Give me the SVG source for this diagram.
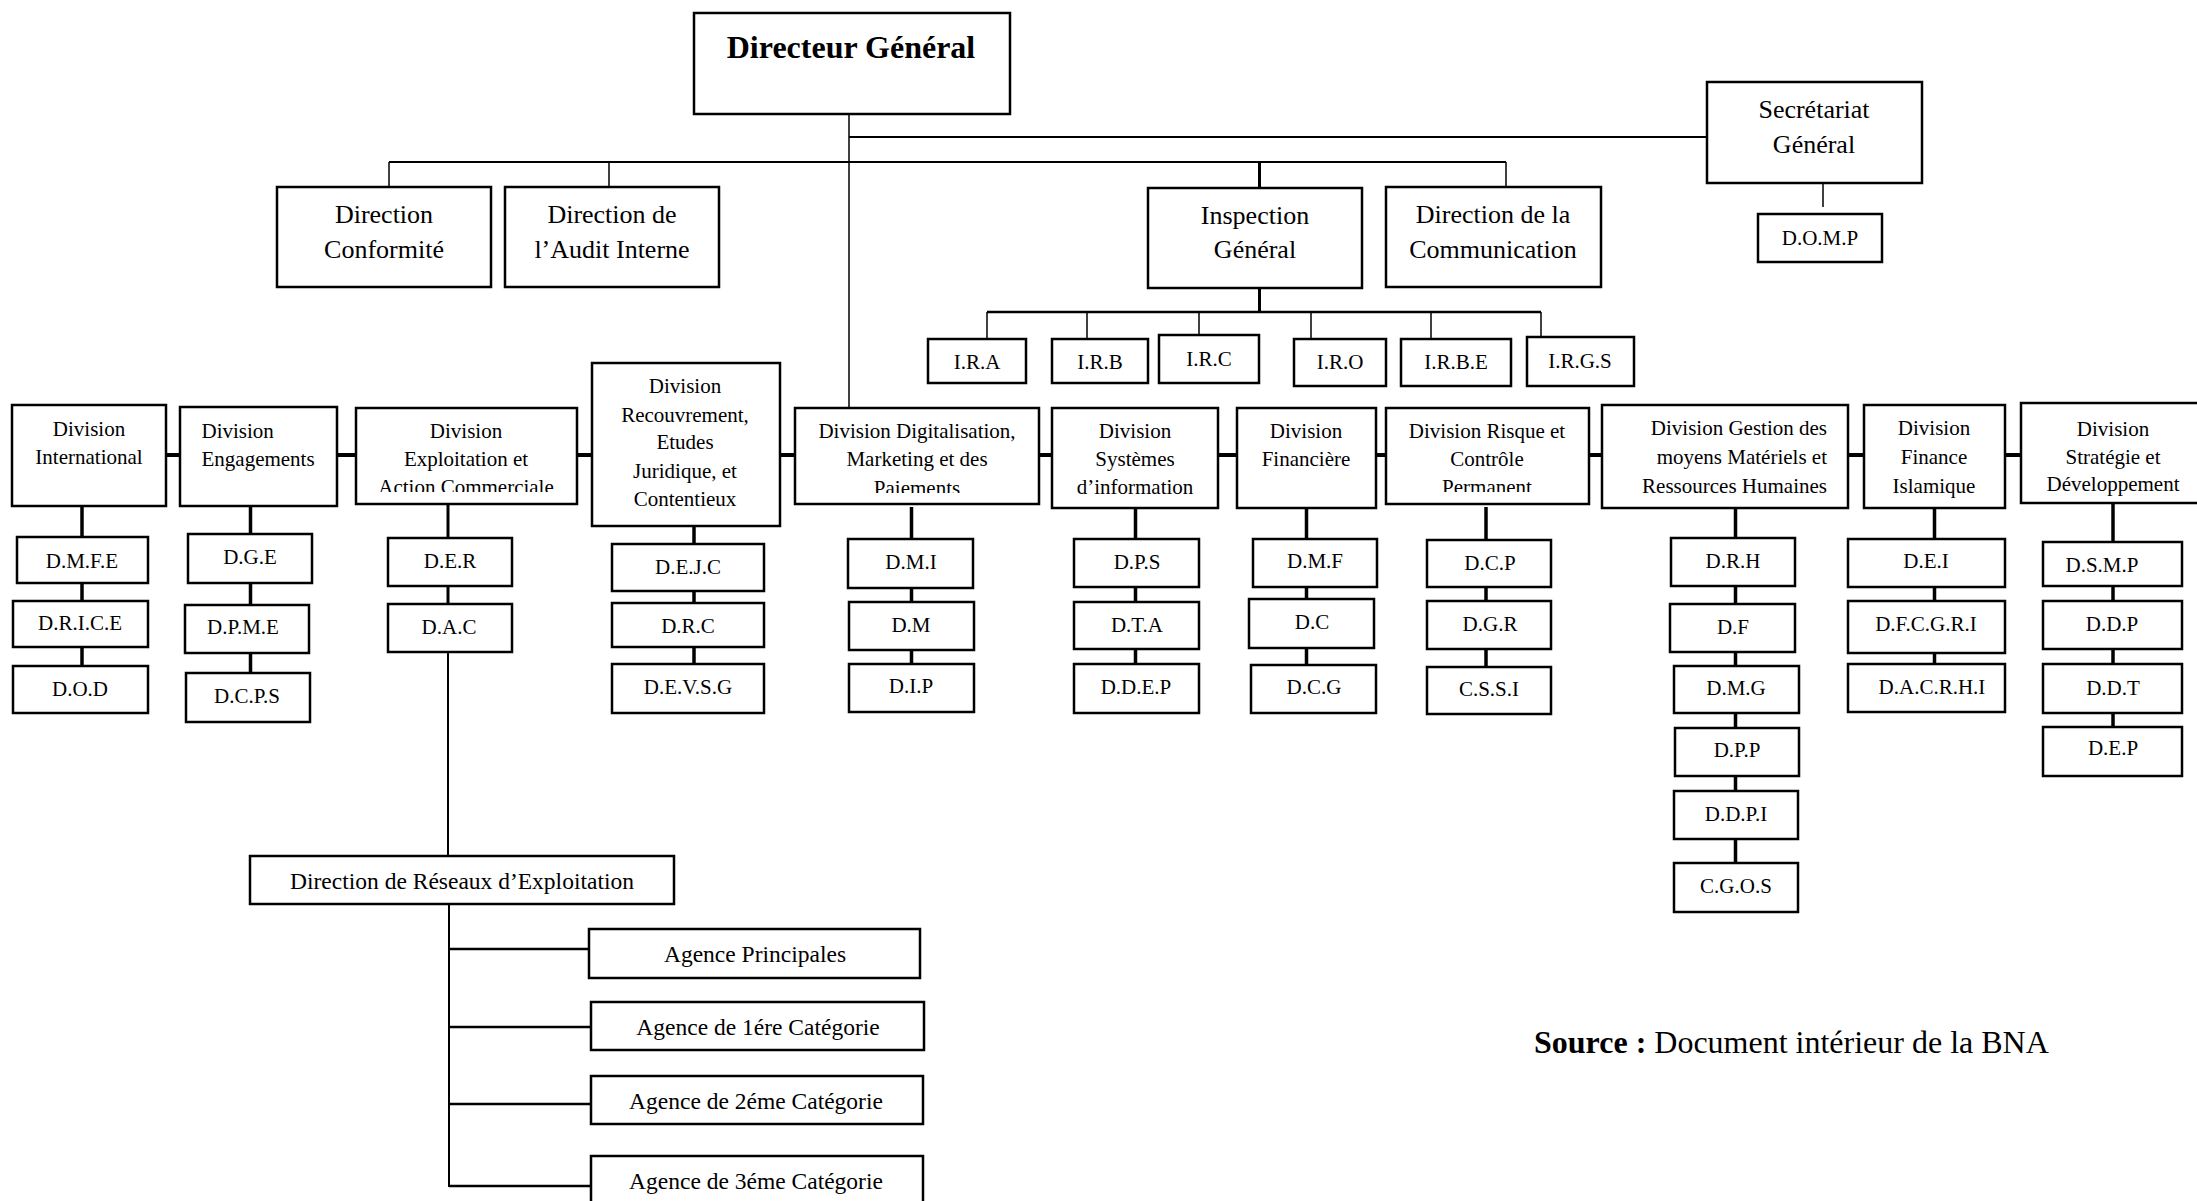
<svg xmlns="http://www.w3.org/2000/svg" width="2197" height="1201" viewBox="0 0 2197 1201">
<style>
.b{fill:#fff;stroke:#000;stroke-width:2.5}
.t{font-family:"Liberation Serif","Times New Roman",serif;fill:#000;text-anchor:middle}
.s{text-anchor:start}
.e{text-anchor:end}
.f32{font-size:32px;font-weight:bold}
.f26{font-size:26px}
.f24{font-size:23.5px}
.f21{font-size:21px}
.c{stroke:#000;fill:none}
.w1{stroke-width:1.5}
.w2{stroke-width:2}
.w25{stroke-width:2.5}
.w3{stroke-width:3}
.w35{stroke-width:3.5}
.w4{stroke-width:4}
</style>
<defs>
<clipPath id="clipExp"><rect x="356" y="408" width="221" height="84"/></clipPath>
<clipPath id="clipDig"><rect x="795" y="408" width="244" height="85"/></clipPath>
<clipPath id="clipRsq"><rect x="1386" y="408" width="203" height="84"/></clipPath>
</defs>
<rect x="0" y="0" width="2197" height="1201" fill="#fff"/>
<g id="connectors">
<line class="c w1" x1="849" y1="114" x2="849" y2="408"/>
<line class="c w2" x1="849" y1="137" x2="1707" y2="137"/>
<line class="c w2" x1="389" y1="162" x2="1506" y2="162"/>
<line class="c w1" x1="389" y1="162" x2="389" y2="187"/>
<line class="c w1" x1="609" y1="162" x2="609" y2="187"/>
<line class="c w3" x1="1259.5" y1="162" x2="1259.5" y2="188"/>
<line class="c w1" x1="1506" y1="162" x2="1506" y2="187"/>
<line class="c w1" x1="1823" y1="183" x2="1823" y2="207"/>
<line class="c w3" x1="1259.5" y1="288" x2="1259.5" y2="312"/>
<line class="c w25" x1="987" y1="312" x2="1541" y2="312"/>
<line class="c w1" x1="987" y1="312" x2="987" y2="339"/>
<line class="c w1" x1="1087" y1="312" x2="1087" y2="339"/>
<line class="c w1" x1="1199" y1="312" x2="1199" y2="335"/>
<line class="c w1" x1="1311" y1="312" x2="1311" y2="339"/>
<line class="c w1" x1="1431" y1="312" x2="1431" y2="339"/>
<line class="c w1" x1="1541" y1="312" x2="1541" y2="337"/>
<line class="c w4" x1="166" y1="455" x2="2021" y2="455"/>
<line class="c w35" x1="82" y1="506" x2="82" y2="666"/>
<line class="c w35" x1="250.5" y1="506" x2="250.5" y2="673"/>
<line class="c w3" x1="448" y1="504" x2="448" y2="604"/>
<line class="c w2" x1="448" y1="652" x2="448" y2="856"/>
<line class="c w35" x1="694" y1="526" x2="694" y2="664"/>
<line class="c w35" x1="911.5" y1="507" x2="911.5" y2="664"/>
<line class="c w35" x1="1135.5" y1="508" x2="1135.5" y2="664"/>
<line class="c w35" x1="1306.5" y1="508" x2="1306.5" y2="665"/>
<line class="c w35" x1="1486" y1="507" x2="1486" y2="667"/>
<line class="c w35" x1="1735.5" y1="508" x2="1735.5" y2="863"/>
<line class="c w35" x1="1934.5" y1="508" x2="1934.5" y2="664"/>
<line class="c w35" x1="2113" y1="503" x2="2113" y2="727"/>
<line class="c w2" x1="449" y1="904" x2="449" y2="1187"/>
<line class="c w25" x1="449" y1="949" x2="589" y2="949"/>
<line class="c w25" x1="449" y1="1027" x2="591" y2="1027"/>
<line class="c w25" x1="449" y1="1104" x2="591" y2="1104"/>
<line class="c w25" x1="449" y1="1186" x2="591" y2="1186"/>
</g>
<g id="n-dg"><rect class="b" x="694" y="13" width="316" height="101"/><text class="t f32" x="851" y="58">Directeur Général</text></g>
<g id="n-sg"><rect class="b" x="1707" y="82" width="215" height="101"/><text class="t f26" x="1814" y="118">Secrétariat</text><text class="t f26" x="1814" y="153">Général</text></g>
<g id="n-domp"><rect class="b" x="1758" y="214" width="124" height="48"/><text class="t f21" x="1820" y="245">D.O.M.P</text></g>
<g id="n-conf"><rect class="b" x="277" y="187" width="214" height="100"/><text class="t f26" x="384" y="223">Direction</text><text class="t f26" x="384" y="258">Conformité</text></g>
<g id="n-audit"><rect class="b" x="505" y="187" width="214" height="100"/><text class="t f26" x="612" y="223">Direction de</text><text class="t f26" x="612" y="258">l’Audit Interne</text></g>
<g id="n-insp"><rect class="b" x="1148" y="188" width="214" height="100"/><text class="t f26" x="1255" y="224">Inspection</text><text class="t f26" x="1255" y="258">Général</text></g>
<g id="n-comm"><rect class="b" x="1386" y="187" width="215" height="100"/><text class="t f26" x="1493" y="223">Direction de la</text><text class="t f26" x="1493" y="258">Communication</text></g>
<g id="n-ira"><rect class="b" x="928" y="339" width="98" height="44"/><text class="t f21" x="977" y="369">I.R.A</text></g>
<g id="n-irb"><rect class="b" x="1052" y="339" width="96" height="44"/><text class="t f21" x="1100" y="369">I.R.B</text></g>
<g id="n-irc"><rect class="b" x="1159" y="335" width="100" height="48"/><text class="t f21" x="1209" y="366">I.R.C</text></g>
<g id="n-iro"><rect class="b" x="1294" y="339" width="92" height="47"/><text class="t f21" x="1340" y="369">I.R.O</text></g>
<g id="n-irbe"><rect class="b" x="1401" y="339" width="110" height="47"/><text class="t f21" x="1456" y="369">I.R.B.E</text></g>
<g id="n-irgs"><rect class="b" x="1527" y="337" width="107" height="49"/><text class="t f21" x="1580" y="368">I.R.G.S</text></g>
<g id="n-dint"><rect class="b" x="12" y="405" width="154" height="101"/><text class="t f21" x="89" y="436">Division</text><text class="t f21" x="89" y="464">International</text></g>
<g id="n-deng"><rect class="b" x="180" y="407" width="157" height="99"/><text class="t s f21" x="201.5" y="438">Division</text><text class="t s f21" x="201.5" y="466">Engagements</text></g>
<g id="n-dexp"><rect class="b" x="356" y="408" width="221" height="96"/><g clip-path="url(#clipExp)"><text class="t f21" x="466" y="438">Division</text><text class="t f21" x="466" y="466">Exploitation et</text><text class="t f21" x="466" y="494">Action Commerciale</text></g></g>
<g id="n-drec"><rect class="b" x="592" y="363" width="188" height="163"/><text class="t f21" x="685" y="393">Division</text><text class="t f21" x="685" y="422">Recouvrement,</text><text class="t f21" x="685" y="449">Etudes</text><text class="t f21" x="685" y="478">Juridique, et</text><text class="t f21" x="685" y="506">Contentieux</text></g>
<g id="n-ddig"><rect class="b" x="795" y="408" width="244" height="96"/><g clip-path="url(#clipDig)"><text class="t f21" x="917" y="438">Division Digitalisation,</text><text class="t f21" x="917" y="466">Marketing et des</text><text class="t f21" x="917" y="495">Paiements</text></g></g>
<g id="n-dsys"><rect class="b" x="1052" y="408" width="166" height="100"/><text class="t f21" x="1135" y="438">Division</text><text class="t f21" x="1135" y="466">Systèmes</text><text class="t f21" x="1135" y="494">d’information</text></g>
<g id="n-dfin"><rect class="b" x="1237" y="408" width="139" height="100"/><text class="t f21" x="1306" y="438">Division</text><text class="t f21" x="1306" y="466">Financière</text></g>
<g id="n-drsq"><rect class="b" x="1386" y="408" width="203" height="96"/><g clip-path="url(#clipRsq)"><text class="t f21" x="1487" y="438">Division Risque et</text><text class="t f21" x="1487" y="466">Contrôle</text><text class="t f21" x="1487" y="494">Permanent</text></g></g>
<g id="n-dges"><rect class="b" x="1602" y="405" width="246" height="103"/><text class="t e f21" x="1827" y="435">Division Gestion des</text><text class="t e f21" x="1827" y="464">moyens Matériels et</text><text class="t e f21" x="1827" y="493">Ressources Humaines</text></g>
<g id="n-dfi"><rect class="b" x="1864" y="405" width="141" height="103"/><text class="t f21" x="1934" y="435">Division</text><text class="t f21" x="1934" y="464">Finance</text><text class="t f21" x="1934" y="493">Islamique</text></g>
<g id="n-dstr"><rect class="b" x="2021" y="403" width="190" height="100"/><text class="t f21" x="2113" y="436">Division</text><text class="t f21" x="2113" y="464">Stratégie et</text><text class="t f21" x="2113" y="491">Développement</text></g>
<g id="n-dmfe"><rect class="b" x="17" y="537" width="131" height="46"/><text class="t f21" x="82" y="568">D.M.F.E</text></g>
<g id="n-drice"><rect class="b" x="13" y="601" width="135" height="46"/><text class="t f21" x="80" y="630">D.R.I.C.E</text></g>
<g id="n-dod"><rect class="b" x="13" y="666" width="135" height="47"/><text class="t f21" x="80" y="696">D.O.D</text></g>
<g id="n-dge"><rect class="b" x="188" y="534" width="124" height="49"/><text class="t f21" x="250" y="564">D.G.E</text></g>
<g id="n-dpme"><rect class="b" x="185" y="605" width="124" height="48"/><text class="t f21" x="243" y="634">D.P.M.E</text></g>
<g id="n-dcps"><rect class="b" x="186" y="673" width="124" height="49"/><text class="t f21" x="247" y="703">D.C.P.S</text></g>
<g id="n-der"><rect class="b" x="388" y="538" width="124" height="48"/><text class="t f21" x="450" y="568">D.E.R</text></g>
<g id="n-dac"><rect class="b" x="388" y="604" width="124" height="48"/><text class="t f21" x="449" y="634">D.A.C</text></g>
<g id="n-dejc"><rect class="b" x="612" y="544" width="152" height="47"/><text class="t f21" x="688" y="574">D.E.J.C</text></g>
<g id="n-drc"><rect class="b" x="612" y="603" width="152" height="44"/><text class="t f21" x="688" y="633">D.R.C</text></g>
<g id="n-devsg"><rect class="b" x="612" y="664" width="152" height="49"/><text class="t f21" x="688" y="694">D.E.V.S.G</text></g>
<g id="n-dmi"><rect class="b" x="848" y="539" width="125" height="49"/><text class="t f21" x="911" y="569">D.M.I</text></g>
<g id="n-dm"><rect class="b" x="849" y="602" width="125" height="48"/><text class="t f21" x="911" y="632">D.M</text></g>
<g id="n-dip"><rect class="b" x="849" y="664" width="125" height="48"/><text class="t f21" x="911" y="693">D.I.P</text></g>
<g id="n-dps"><rect class="b" x="1074" y="539" width="125" height="48"/><text class="t f21" x="1137" y="569">D.P.S</text></g>
<g id="n-dta"><rect class="b" x="1074" y="602" width="125" height="47"/><text class="t f21" x="1137" y="632">D.T.A</text></g>
<g id="n-ddep"><rect class="b" x="1074" y="664" width="125" height="49"/><text class="t f21" x="1136" y="694">D.D.E.P</text></g>
<g id="n-dmf"><rect class="b" x="1253" y="539" width="124" height="48"/><text class="t f21" x="1315" y="568">D.M.F</text></g>
<g id="n-dc"><rect class="b" x="1249" y="599" width="125" height="49"/><text class="t f21" x="1312" y="629">D.C</text></g>
<g id="n-dcg"><rect class="b" x="1251" y="665" width="125" height="48"/><text class="t f21" x="1314" y="694">D.C.G</text></g>
<g id="n-dcp"><rect class="b" x="1427" y="540" width="124" height="47"/><text class="t f21" x="1490" y="570">D.C.P</text></g>
<g id="n-dgr"><rect class="b" x="1427" y="601" width="124" height="48"/><text class="t f21" x="1490" y="631">D.G.R</text></g>
<g id="n-cssi"><rect class="b" x="1427" y="667" width="124" height="47"/><text class="t f21" x="1489" y="696">C.S.S.I</text></g>
<g id="n-drh"><rect class="b" x="1671" y="538" width="124" height="48"/><text class="t f21" x="1733" y="568">D.R.H</text></g>
<g id="n-df"><rect class="b" x="1670" y="604" width="125" height="48"/><text class="t f21" x="1733" y="634">D.F</text></g>
<g id="n-dmg"><rect class="b" x="1674" y="666" width="125" height="47"/><text class="t f21" x="1736" y="695">D.M.G</text></g>
<g id="n-dpp"><rect class="b" x="1675" y="728" width="124" height="48"/><text class="t f21" x="1737" y="757">D.P.P</text></g>
<g id="n-ddpi"><rect class="b" x="1674" y="791" width="124" height="48"/><text class="t f21" x="1736" y="821">D.D.P.I</text></g>
<g id="n-cgos"><rect class="b" x="1674" y="863" width="124" height="49"/><text class="t f21" x="1736" y="893">C.G.O.S</text></g>
<g id="n-dei"><rect class="b" x="1848" y="539" width="157" height="48"/><text class="t f21" x="1926" y="568">D.E.I</text></g>
<g id="n-dfcgri"><rect class="b" x="1848" y="601" width="157" height="52"/><text class="t f21" x="1926" y="631">D.F.C.G.R.I</text></g>
<g id="n-dacrhi"><rect class="b" x="1848" y="664" width="157" height="48"/><text class="t f21" x="1932" y="694">D.A.C.R.H.I</text></g>
<g id="n-dsmp"><rect class="b" x="2043" y="542" width="139" height="44"/><text class="t f21" x="2102" y="572">D.S.M.P</text></g>
<g id="n-ddp"><rect class="b" x="2043" y="601" width="139" height="48"/><text class="t f21" x="2112" y="631">D.D.P</text></g>
<g id="n-ddt"><rect class="b" x="2043" y="664" width="139" height="49"/><text class="t f21" x="2113" y="695">D.D.T</text></g>
<g id="n-dep"><rect class="b" x="2043" y="727" width="139" height="49"/><text class="t f21" x="2113" y="755">D.E.P</text></g>
<g id="n-dre"><rect class="b" x="250" y="856" width="424" height="48"/><text class="t f24" x="462" y="889">Direction de Réseaux d’Exploitation</text></g>
<g id="n-ap"><rect class="b" x="589" y="929" width="331" height="49"/><text class="t f24" x="755" y="962">Agence Principales</text></g>
<g id="n-a1"><rect class="b" x="591" y="1002" width="333" height="48"/><text class="t f24" x="758" y="1035">Agence de 1ére Catégorie</text></g>
<g id="n-a2"><rect class="b" x="591" y="1076" width="332" height="48"/><text class="t f24" x="756" y="1109">Agence de 2éme Catégorie</text></g>
<g id="n-a3"><rect class="b" x="591" y="1156" width="332" height="60"/><text class="t f24" x="756" y="1189">Agence de 3éme Catégorie</text></g>
<text class="t s" x="1534" y="1053" style="font-size:32px"><tspan font-weight="bold">Source :</tspan> Document intérieur de la BNA</text>
</svg>
